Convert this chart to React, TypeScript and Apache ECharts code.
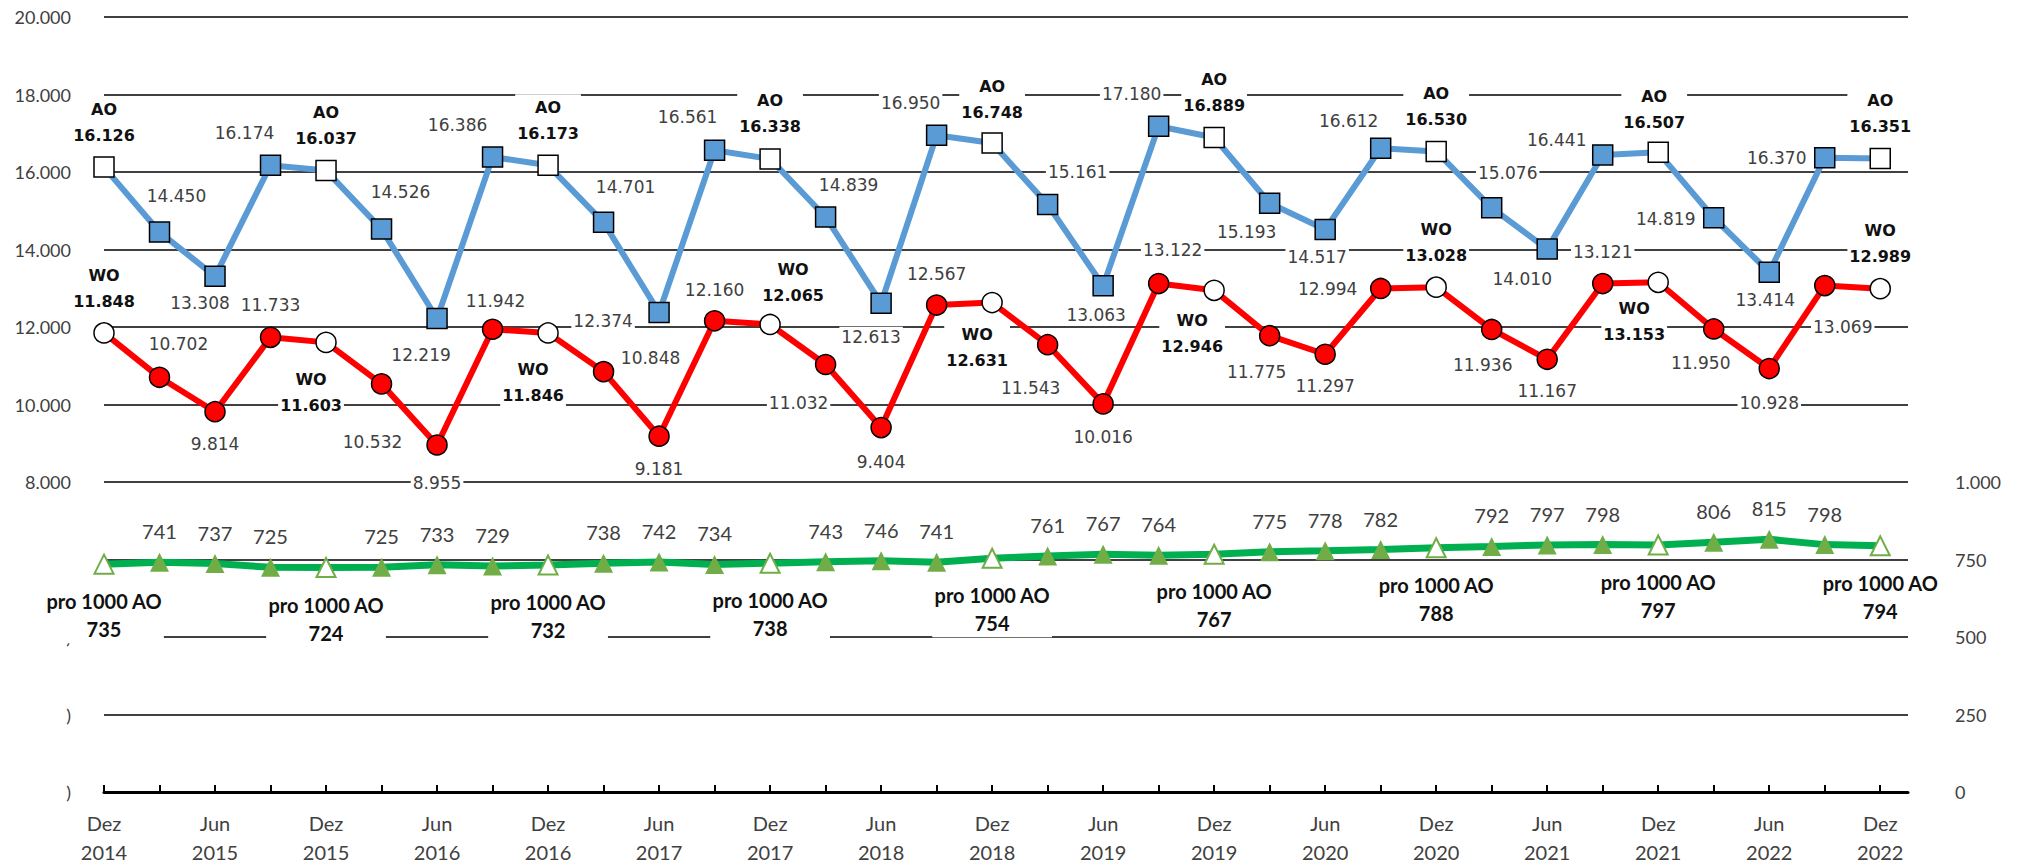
import React, { useEffect, useRef } from 'react';
import * as echarts from 'echarts';

// Quarterly periods (Dez 2014 – Dez 2022)
const periods: string[] = [
  'Dez 2014', 'Mär 2015', 'Jun 2015', 'Sep 2015',
  'Dez 2015', 'Mär 2016', 'Jun 2016', 'Sep 2016',
  'Dez 2016', 'Mär 2017', 'Jun 2017', 'Sep 2017',
  'Dez 2017', 'Mär 2018', 'Jun 2018', 'Sep 2018',
  'Dez 2018', 'Mär 2019', 'Jun 2019', 'Sep 2019',
  'Dez 2019', 'Mär 2020', 'Jun 2020', 'Sep 2020',
  'Dez 2020', 'Mär 2021', 'Jun 2021', 'Sep 2021',
  'Dez 2021', 'Mär 2022', 'Jun 2022', 'Sep 2022',
  'Dez 2022',
];

// AO (blue)
const aoValues: number[] = [
  16126, 14450, 13308, 16174, 16037, 14526, 12219, 16386, 16173, 14701, 12374,
  16561, 16338, 14839, 12613, 16950, 16748, 15161, 13063, 17180, 16889, 15193,
  14517, 16612, 16530, 15076, 14010, 16441, 16507, 14819, 13414, 16370, 16351,
];

// WO (red)
const woValues: number[] = [
  11848, 10702, 9814, 11733, 11603, 10532, 8955, 11942, 11846, 10848, 9181,
  12160, 12065, 11032, 9404, 12567, 12631, 11543, 10016, 13122, 12946, 11775,
  11297, 12994, 13028, 11936, 11167, 13121, 13153, 11950, 10928, 13069, 12989,
];

// pro 1000 AO (green, right axis)
const proValues: number[] = [
  735, 741, 737, 725, 724, 725, 733, 729, 732, 738, 742, 734, 738, 743, 746,
  741, 754, 761, 767, 764, 767, 775, 778, 782, 788, 792, 797, 798, 797, 806,
  815, 798, 794,
];

// label placement (pixel offsets of label centre from the marker)
const aoLabelOffsets: number[][] = [
  [0, -45], [17, -36], [-15, 27], [-26, -32], [0, -45], [19, -37], [-16, 36], [-35, -32],
  [0, -45], [22, -35], [-56, 8], [-27, -33], [0, -45], [23, -32], [-10, 34], [-26, -32],
  [0, -44], [30, -33], [-7, 29], [-27, -32], [0, -45], [-23, 29], [-8, 28], [-32, -27],
  [0, -45], [16, -35], [-25, 30], [-46, -15], [-4, -43], [-48, 1], [-4, 28], [-48, 0],
  [0, -45],
];
const woLabelOffsets: number[][] = [
  [0, -44], [19, -33], [0, 32], [0, -32], [-15, 50], [-9, 58], [0, 38], [3, -28],
  [-15, 50], [47, -14], [0, 33], [0, -31], [23, -42], [-27, 38], [0, 34], [0, -31],
  [-15, 45], [-17, 43], [0, 33], [14, -34], [-22, 43], [-13, 36], [0, 32], [-53, 1],
  [0, -45], [-9, 36], [0, 32], [0, -32], [-24, 39], [-13, 34], [0, 34], [18, 41],
  [0, -45],
];

const fmt = (v: number): string => {
  const s = Math.round(v).toString();
  return s.replace(/\B(?=(\d{3})+(?!\d))/g, '.');
};

const isDez = (i: number) => periods[i].startsWith('Dez');

const TEXT = '#404040';

export default function App() {
  const ref = useRef<HTMLDivElement>(null);

  useEffect(() => {
    if (!ref.current) return;
    const chart = echarts.init(ref.current, undefined, { renderer: 'svg' });

    const tickIdx = periods.map((_, i) => i);
    const labelIdx = periods.map((_, i) => i).filter((i) => i % 2 === 0);

    const mkLabel = (
      i: number,
      off: number[],
      prefix: string,
      v: number,
      regFont: string,
      regSize: number,
      boldSize: number,
      boldLH: number
    ) => {
      const bold = isDez(i);
      return {
        show: true,
        position: 'inside',
        offset: off,
        formatter: bold ? `${prefix}\n${fmt(v)}` : fmt(v),
        fontFamily: regFont,
        fontSize: bold ? boldSize : regSize,
        fontWeight: bold ? 'bold' : 'normal',
        lineHeight: bold ? boldLH : regSize + 4,
        color: bold ? '#111' : TEXT,
        backgroundColor: '#fff',
        padding: [0, 2],
        align: 'center',
        verticalAlign: 'middle',
      };
    };

    const aoData = aoValues.map((v, i) => ({
      value: [i, v],
      itemStyle: isDez(i)
        ? { color: '#fff', borderColor: '#000', borderWidth: 1.5 }
        : { color: '#5B9BD5', borderColor: '#000', borderWidth: 1.5 },
      label: mkLabel(i, aoLabelOffsets[i], 'AO', v, 'DejaVu Sans', 17, 16, 26),
    }));

    const woData = woValues.map((v, i) => ({
      value: [i, v],
      itemStyle: isDez(i)
        ? { color: '#fff', borderColor: '#000', borderWidth: 1.5 }
        : { color: '#FF0000', borderColor: '#000', borderWidth: 1.5 },
      label: mkLabel(i, woLabelOffsets[i], 'WO', v, 'DejaVu Sans', 17, 16, 26),
    }));

    const proData = proValues.map((v, i) => ({
      value: [i, v],
      itemStyle: isDez(i)
        ? { color: '#fff', borderColor: '#70AD47', borderWidth: 2 }
        : { color: '#70AD47', borderWidth: 0 },
      label: isDez(i)
        ? {
            show: true,
            position: 'inside',
            offset: [0, 51],
            formatter: `pro 1000 AO\n${fmt(v)}`,
            fontFamily: 'Lato',
            fontSize: 20,
            fontWeight: 'bold',
            lineHeight: 28,
            color: '#111',
            backgroundColor: '#fff',
            padding: [0, 2],
            align: 'center',
            verticalAlign: 'middle',
          }
        : {
            show: true,
            position: 'inside',
            offset: [0, -31],
            formatter: fmt(v),
            fontFamily: 'Lato',
            fontSize: 20,
            color: TEXT,
            align: 'center',
            verticalAlign: 'middle',
          },
    }));

    chart.setOption({
      animation: false,
      grid: { left: 104, right: 114, top: 17, bottom: 73, containLabel: false },
      xAxis: {
        type: 'value',
        min: 0,
        max: 32.5,
        axisLine: { show: true, onZero: false, lineStyle: { color: '#000', width: 3 } },
        axisTick: {
          show: true,
          inside: true,
          length: 7,
          lineStyle: { color: '#000', width: 2 },
          customValues: tickIdx,
        },
        axisLabel: {
          customValues: labelIdx,
          formatter: (val: number) => {
            const i = Math.round(val);
            if (Math.abs(val - i) > 0.01 || !periods[i]) return '';
            return periods[i].replace(' ', '\n');
          },
          fontFamily: 'Lato',
          fontSize: 20,
          lineHeight: 29,
          color: TEXT,
          margin: 16,
        },
        splitLine: { show: false },
      },
      yAxis: [
        {
          type: 'value',
          min: 0,
          max: 20000,
          interval: 2000,
          position: 'left',
          axisLine: { show: false },
          axisTick: { show: false },
          splitLine: { show: true, lineStyle: { color: '#000', width: 1.5 } },
          axisLabel: {
            formatter: (v: number) => (v >= 8000 ? fmt(v) : v <= 4000 ? ')' : ''),
            fontFamily: 'Lato',
            fontSize: 18,
            color: TEXT,
            margin: 33,
          },
        },
        {
          type: 'value',
          min: 0,
          max: 2500,
          interval: 250,
          position: 'right',
          axisLine: { show: false },
          axisTick: { show: false },
          splitLine: { show: false },
          axisLabel: {
            formatter: (v: number) => (v <= 1000 ? fmt(v) : ''),
            fontFamily: 'Lato',
            fontSize: 18,
            color: TEXT,
            margin: 47,
          },
        },
      ],
      series: [
        {
          name: 'pro 1000 AO',
          type: 'line',
          yAxisIndex: 1,
          data: proData,
          symbol: 'triangle',
          symbolSize: 19,
          lineStyle: { color: '#00B050', width: 7 },
          itemStyle: { color: '#70AD47' },
          emphasis: { disabled: true },
          z: 3,
        },
        {
          name: 'WO',
          type: 'line',
          yAxisIndex: 0,
          data: woData,
          symbol: 'circle',
          symbolSize: 20,
          lineStyle: { color: '#FF0000', width: 6 },
          itemStyle: { color: '#FF0000' },
          emphasis: { disabled: true },
          z: 4,
        },
        {
          name: 'AO',
          type: 'line',
          yAxisIndex: 0,
          data: aoData,
          symbol: 'rect',
          symbolSize: 20,
          lineStyle: { color: '#5B9BD5', width: 6 },
          itemStyle: { color: '#5B9BD5' },
          emphasis: { disabled: true },
          z: 5,
        },
      ],
    });

    return () => chart.dispose();
  }, []);

  return (
    <div
      ref={ref}
      style={{ position: 'fixed', left: 0, top: 0, width: '2022px', height: '866px', background: '#fff' }}
    />
  );
}
